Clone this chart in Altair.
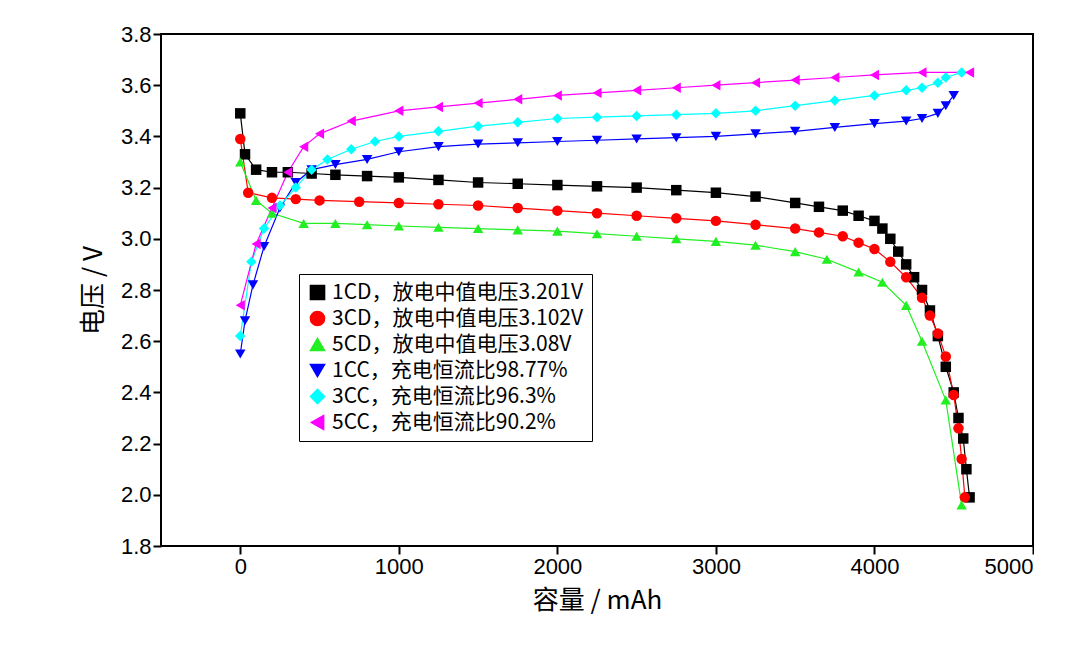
import altair as alt
import pandas as pd

labels = ["1CD，放电中值电压3.201V", "3CD，放电中值电压3.102V", "5CD，放电中值电压3.08V",
          "1CC，充电恒流比98.77%", "3CC，充电恒流比96.3%", "5CC，充电恒流比90.2%"]
colors = ["#000000", "#ff0000", "#22ee22", "#0000ff", "#00ffff", "#ff00ff"]
shapes = ["square", "circle", "triangle-up", "triangle-down", "diamond", "triangle-left"]

cap_1cd = [0, 30, 100, 200, 300, 450, 600, 800, 1000, 1250, 1500, 1750, 2000, 2250, 2500, 2750, 3000, 3250, 3500, 3650, 3800, 3900, 4000, 4050, 4100, 4150, 4200, 4250, 4300, 4350, 4400, 4450, 4500, 4530, 4560, 4580, 4600]
v_1cd = [3.49, 3.33, 3.27, 3.26, 3.26, 3.255, 3.25, 3.245, 3.24, 3.23, 3.22, 3.215, 3.21, 3.205, 3.20, 3.19, 3.18, 3.165, 3.14, 3.125, 3.11, 3.09, 3.07, 3.04, 3.00, 2.95, 2.90, 2.85, 2.80, 2.72, 2.62, 2.50, 2.40, 2.30, 2.22, 2.10, 1.99]

cap_3cd = [0, 50, 200, 350, 500, 750, 1000, 1250, 1500, 1750, 2000, 2250, 2500, 2750, 3000, 3250, 3500, 3650, 3800, 3900, 4000, 4100, 4200, 4300, 4350, 4400, 4450, 4500, 4530, 4550, 4570]
v_3cd = [3.39, 3.18, 3.16, 3.155, 3.15, 3.145, 3.14, 3.135, 3.13, 3.12, 3.11, 3.10, 3.09, 3.08, 3.07, 3.055, 3.04, 3.025, 3.01, 2.985, 2.96, 2.91, 2.85, 2.77, 2.70, 2.63, 2.54, 2.39, 2.26, 2.14, 1.99]

cap_5cd = [0, 100, 200, 400, 600, 800, 1000, 1250, 1500, 1750, 2000, 2250, 2500, 2750, 3000, 3250, 3500, 3700, 3900, 4050, 4200, 4300, 4450, 4550]
v_5cd = [3.30, 3.15, 3.10, 3.06, 3.06, 3.055, 3.05, 3.045, 3.04, 3.035, 3.03, 3.02, 3.01, 3.00, 2.99, 2.975, 2.95, 2.92, 2.87, 2.83, 2.74, 2.60, 2.37, 1.96]

cap_1cc = [0, 30, 80, 150, 250, 350, 450, 600, 800, 1000, 1250, 1500, 1750, 2000, 2250, 2500, 2750, 3000, 3250, 3500, 3750, 4000, 4200, 4300, 4400, 4450, 4500]
v_1cc = [2.55, 2.68, 2.82, 2.97, 3.12, 3.22, 3.27, 3.29, 3.31, 3.34, 3.36, 3.37, 3.375, 3.38, 3.385, 3.39, 3.395, 3.40, 3.41, 3.42, 3.435, 3.45, 3.46, 3.47, 3.49, 3.52, 3.56]

cap_3cc = [0, 70, 150, 250, 350, 450, 550, 700, 850, 1000, 1250, 1500, 1750, 2000, 2250, 2500, 2750, 3000, 3250, 3500, 3750, 4000, 4200, 4300, 4400, 4450, 4550]
v_3cc = [2.62, 2.91, 3.04, 3.13, 3.20, 3.27, 3.31, 3.35, 3.38, 3.40, 3.42, 3.44, 3.455, 3.47, 3.475, 3.48, 3.485, 3.49, 3.50, 3.52, 3.54, 3.56, 3.58, 3.59, 3.61, 3.63, 3.65]

cap_5cc = [0, 100, 200, 300, 400, 500, 700, 1000, 1250, 1500, 1750, 2000, 2250, 2500, 2750, 3000, 3250, 3500, 3750, 4000, 4300, 4600]
v_5cc = [2.74, 2.98, 3.12, 3.26, 3.36, 3.41, 3.46, 3.50, 3.515, 3.53, 3.545, 3.56, 3.57, 3.58, 3.59, 3.60, 3.61, 3.62, 3.63, 3.64, 3.65, 3.65]

series = [(cap_1cd, v_1cd), (cap_3cd, v_3cd), (cap_5cd, v_5cd),
          (cap_1cc, v_1cc), (cap_3cc, v_3cc), (cap_5cc, v_5cc)]
rows = []
for lab, (xs, ys) in zip(labels, series):
    for i, (x, y) in enumerate(zip(xs, ys)):
        rows.append({"cap": x, "v": y, "s": lab, "i": i})
df = pd.DataFrame(rows)

font = "Noto Sans CJK SC"
x = alt.X("cap:Q", title="容量 / mAh", scale=alt.Scale(domain=[-500, 5000], nice=False),
          axis=alt.Axis(values=[0, 1000, 2000, 3000, 4000, 5000], format="d", grid=False))
y = alt.Y("v:Q", title="电压 / V", scale=alt.Scale(domain=[1.8, 3.8], nice=False, zero=False),
          axis=alt.Axis(values=[1.8, 2.0, 2.2, 2.4, 2.6, 2.8, 3.0, 3.2, 3.4, 3.6, 3.8],
                        format=".1f", grid=False))
color_scale = alt.Scale(domain=labels, range=colors)
shape_scale = alt.Scale(domain=labels, range=shapes)
legend = alt.Legend(orient="none", legendX=138, legendY=240,
                    labelFontSize=21, labelFont=font, symbolSize=200,
                    rowPadding=4, padding=8, strokeColor="black",
                    fillColor="white", labelLimit=600)

base = alt.Chart(df)
lines = base.mark_line(strokeWidth=1.2).encode(
    x=x, y=y, order="i:Q",
    color=alt.Color("s:N", scale=color_scale, title=None, legend=legend),
    detail="s:N",
)
points = base.mark_point(filled=True, size=110, opacity=1).encode(
    x=x, y=y,
    color=alt.Color("s:N", scale=color_scale, title=None, legend=legend),
    shape=alt.Shape("s:N", scale=shape_scale, title=None, legend=legend),
)

chart = (lines + points).properties(
    width=872, height=512, padding={"left": 72, "top": 15, "right": 0, "bottom": 5}
).configure_view(stroke="black", strokeWidth=2).configure_axis(
    labelFontSize=22, titleFontSize=26, labelFont="Liberation Sans", titleFont=font,
    titleFontWeight="normal", labelColor="black", titleColor="black",
    domain=False, tickColor="black", tickWidth=2, tickSize=8,
).configure_axisY(titlePadding=14).configure_axisX(titlePadding=10)

chart.save("out.html", embed_options={"renderer": "svg", "actions": False})
